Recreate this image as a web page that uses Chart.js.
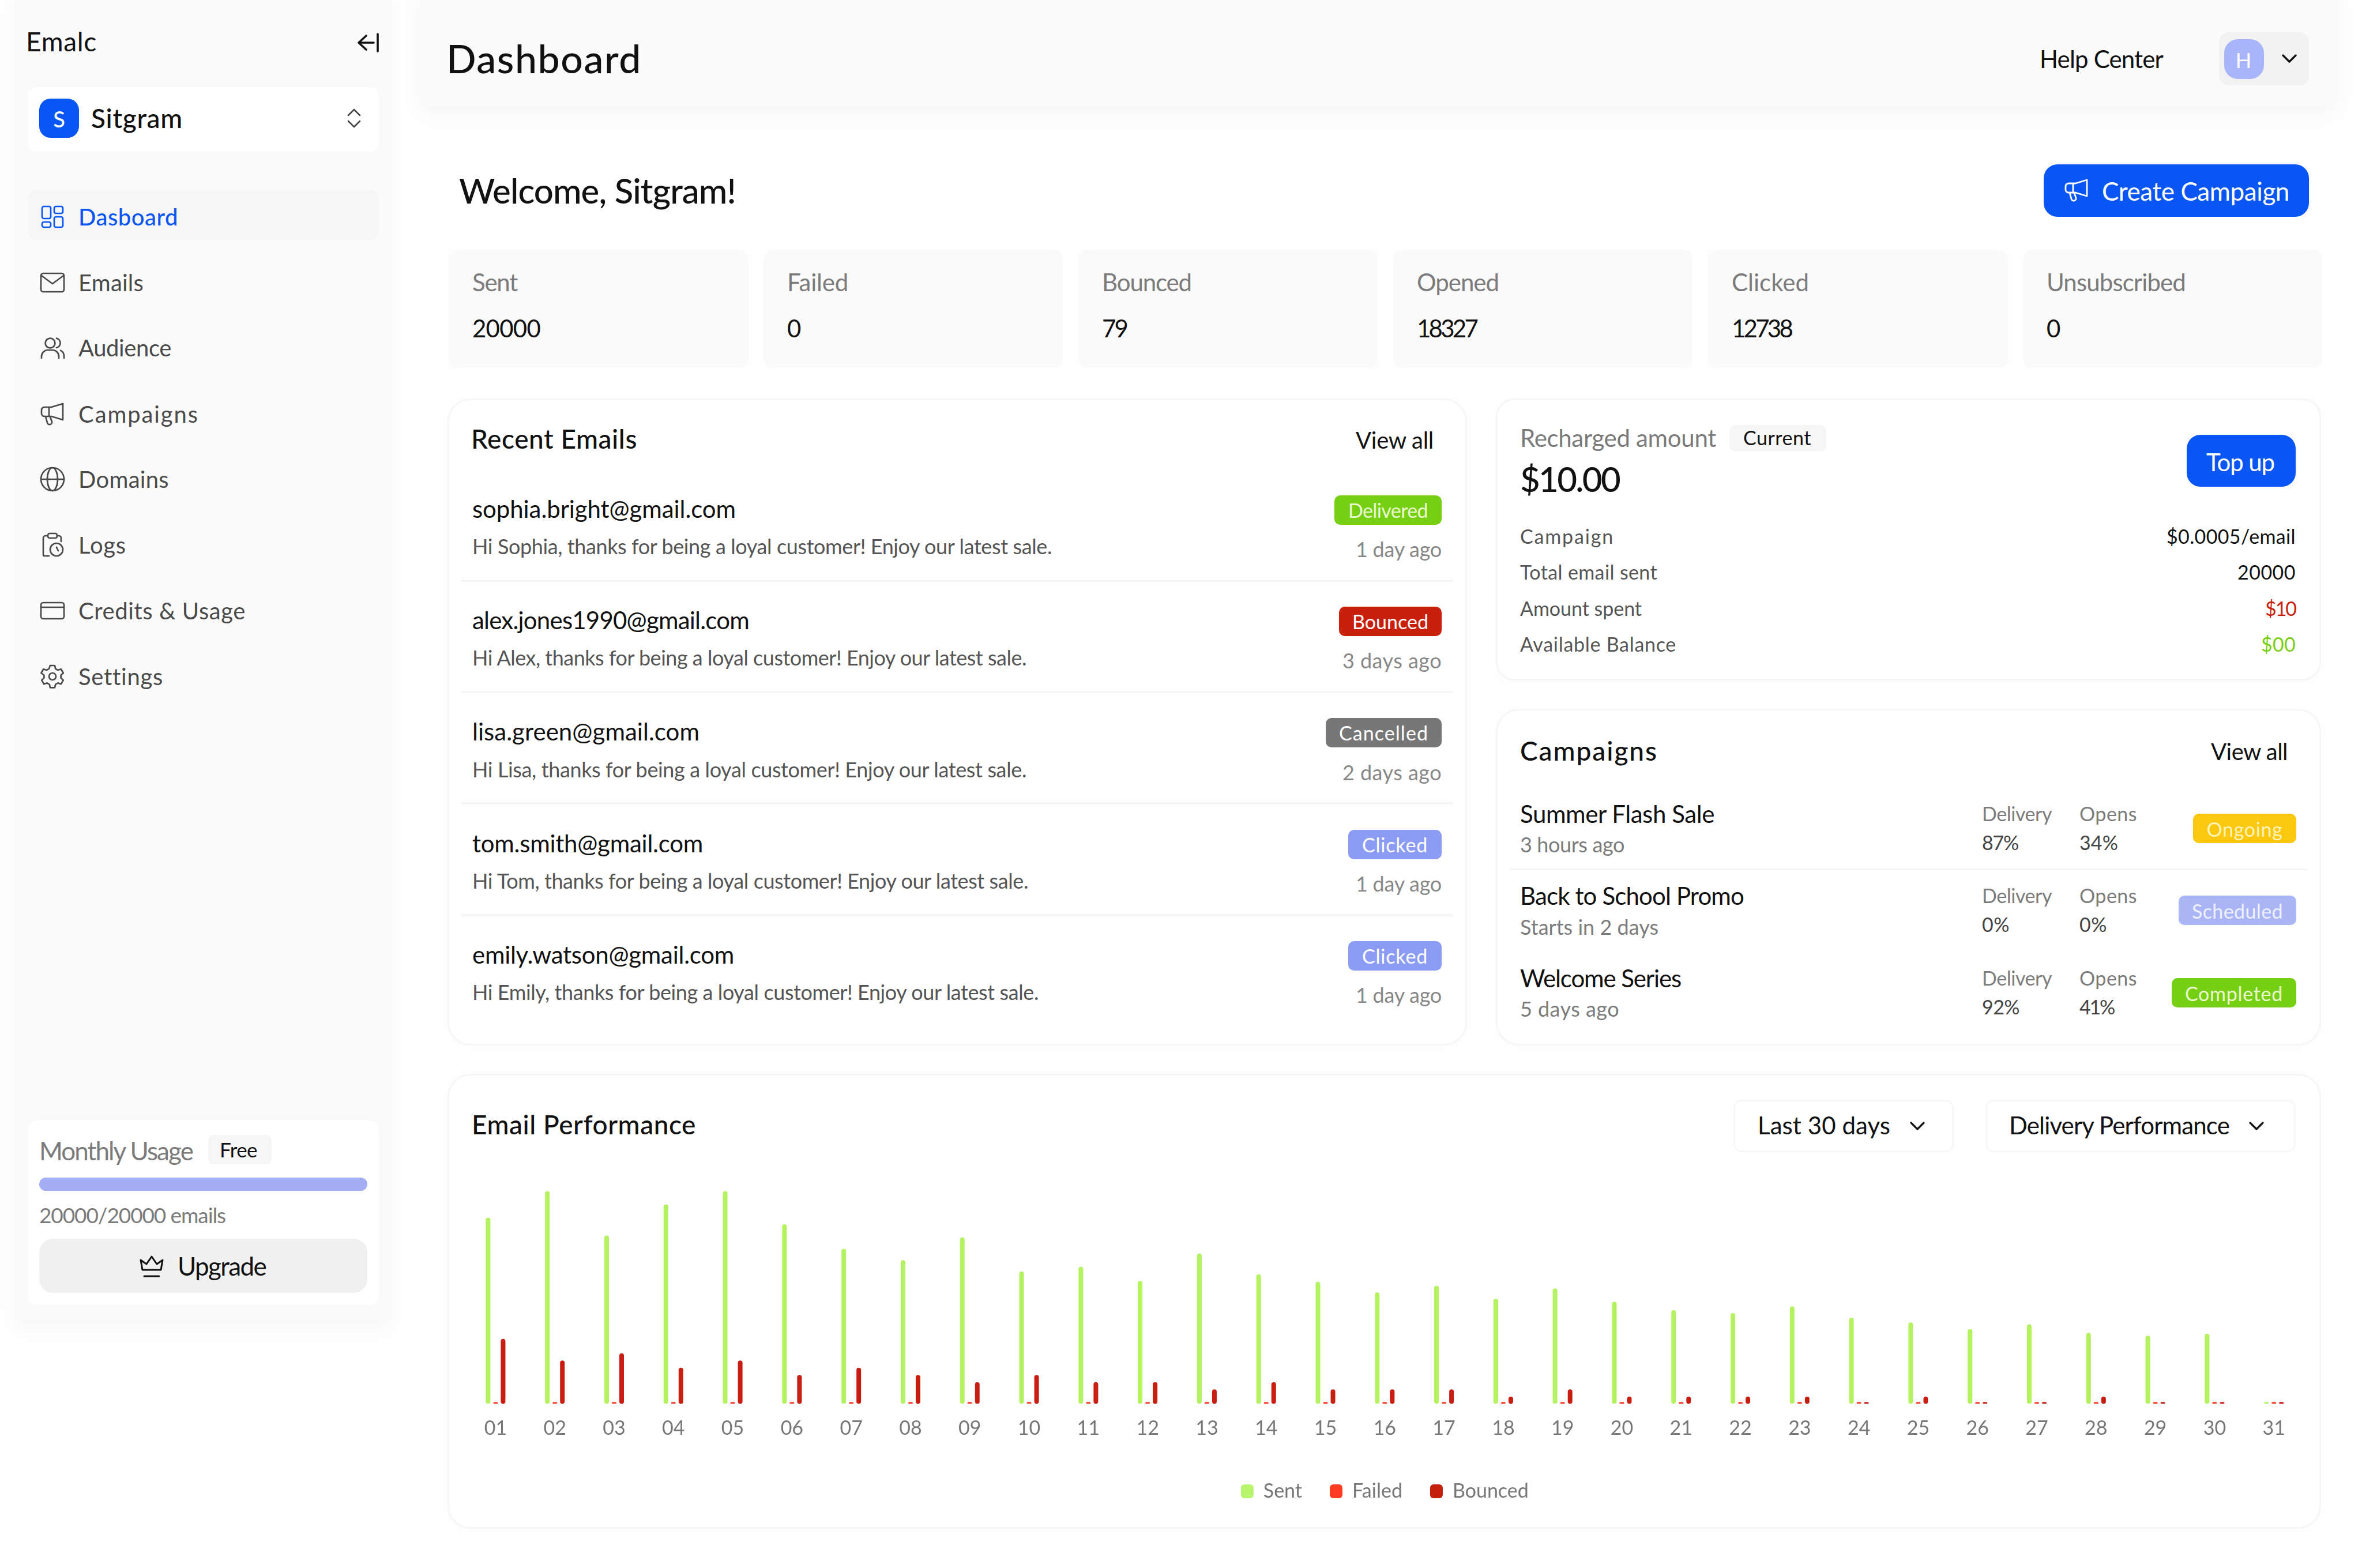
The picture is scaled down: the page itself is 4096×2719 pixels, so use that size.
<!DOCTYPE html>
<html>
<head>
<meta charset="utf-8">
<script src="https://cdn.jsdelivr.net/npm/chart.js@4"></script>
<style>
html,body{margin:0;padding:0;background:#fefefe;width:4096px;height:2719px;overflow:hidden;font-family:Lato,sans-serif}
#root{position:relative;width:4096px;height:2719px;overflow:hidden}
.b{position:absolute;box-sizing:border-box}
.t{position:absolute;white-space:nowrap;line-height:1;transform:translateY(-50%)}
svg{position:absolute;overflow:visible}
canvas{position:absolute}
</style>
</head>
<body>
<div id="root"></div>
<script>
const days = ["01","02","03","04","05","06","07","08","09","10","11","12","13","14","15","16","17","18","19","20","21","22","23","24","25","26","27","28","29","30","31"];
const sentValues = [985,1125,890,1055,1125,950,820,760,880,700,725,650,795,685,645,590,625,555,610,540,495,480,515,455,430,395,420,375,360,370,0];
const failedValues = [0,0,0,0,0,0,0,0,0,0,0,0,0,0,0,0,0,0,0,0,0,0,0,0,0,0,0,0,0,0,0];
const bouncedValues = [9,6,7,5,6,4,5,4,3,4,3,3,2,3,2,2,2,1,2,1,1,1,1,0,1,0,0,1,0,0,0];
const seriesNames = ["Sent","Failed","Bounced"];
const seriesColors = ["#b4f25f","#ff3a24","#c81e12"];
const legendColors = ["#b6f56c","#ff3b22","#c4200c"];
const navLabels = ["Dasboard","Emails","Audience","Campaigns","Domains","Logs","Credits & Usage","Settings"];
const statLabels = ["Sent","Failed","Bounced","Opened","Clicked","Unsubscribed"];
const statValues = ["20000","0","79","18327","12738","0"];
const emailAddresses = ["sophia.bright@gmail.com","alex.jones1990@gmail.com","lisa.green@gmail.com","tom.smith@gmail.com","emily.watson@gmail.com"];
const emailMessages = ["Hi Sophia, thanks for being a loyal customer! Enjoy our latest sale.","Hi Alex, thanks for being a loyal customer! Enjoy our latest sale.","Hi Lisa, thanks for being a loyal customer! Enjoy our latest sale.","Hi Tom, thanks for being a loyal customer! Enjoy our latest sale.","Hi Emily, thanks for being a loyal customer! Enjoy our latest sale."];
const emailStatus = ["Delivered","Bounced","Cancelled","Clicked","Clicked"];
const emailTimes = ["1 day ago","3 days ago","2 days ago","1 day ago","1 day ago"];
const balanceLabels = ["Campaign","Total email sent","Amount spent","Available Balance"];
const balanceValues = ["$0.0005/email","20000","$10","$00"];
const campaignNames = ["Summer Flash Sale","Back to School Promo","Welcome Series"];
const campaignWhen = ["3 hours ago","Starts in 2 days","5 days ago"];
const campaignDelivery = ["87%","0%","92%"];
const campaignOpens = ["34%","0%","41%"];
const campaignStatus = ["Ongoing","Scheduled","Completed"];

const root = document.getElementById('root');
function box(x,y,w,h,bg,r,extra){
  const d=document.createElement('div');d.className='b';
  d.style.cssText+=`left:${x}px;top:${y}px;width:${w}px;height:${h}px;background:${bg};border-radius:${r||0}px;${extra||''}`;
  root.appendChild(d);return d;
}
function T(s,x,yc,size,w,color,weight,align){
  const e=document.createElement('span');e.className='t';e.textContent=s;
  yc-=1;
  e.style.cssText+=`left:${x}px;top:${yc}px;font-size:${size}px;color:${color||'#111'};font-weight:${weight||400};`;
  root.appendChild(e);
  const nat=e.getBoundingClientRect().width;
  let real=nat;
  if(w){e.style.letterSpacing=((w-nat)/s.length)+'px';real=w;}
  if(align==='r')e.style.left=(x-real)+'px';
  if(align==='c')e.style.left=(x-real/2)+'px';
  return e;
}
function icon(x,y,w,h,vb,inner,color,sw){
  const n='http://www.w3.org/2000/svg';
  const s=document.createElementNS(n,'svg');
  s.setAttribute('viewBox',vb);s.setAttribute('width',w);s.setAttribute('height',h);
  s.style.left=x+'px';s.style.top=y+'px';
  s.setAttribute('fill','none');s.setAttribute('stroke',color);s.setAttribute('stroke-width',sw||2);
  s.setAttribute('stroke-linecap','round');s.setAttribute('stroke-linejoin','round');
  s.innerHTML=inner;root.appendChild(s);
}
const BLUE='#0a56f5',GRAY='#7b7b7b',DARK='#4a4a4a',RED='#c9200c',GREEN='#77cf13';
const megaphone='<path d="M21 3v14l-10-3H5a2.500 2.500 0 0 1-2.500-2.500V8.500A2.500 2.500 0 0 1 5 6h6zM9 6v8M6 14l1.500 5.500a2 2 0 0 0 4-1L10 14.500"/>';
const navIcons=[
 '<rect x="3" y="3" width="7.500" height="10.500" rx="1.500"/><rect x="13.500" y="3" width="7.500" height="6" rx="1.500"/><rect x="13.500" y="12" width="7.500" height="9" rx="1.500"/><rect x="3" y="16.500" width="7.500" height="4.500" rx="1.500"/>',
 '<rect x="2" y="4" width="20" height="16" rx="2"/><path d="M2.500 6l9.500 7 9.500-7"/>',
 '<circle cx="10" cy="8" r="4.200"/><path d="M2.500 21v-1.500A5.500 5.500 0 0 1 8 14h4a5.500 5.500 0 0 1 5.500 5.500V21M15.500 3.800a4.200 4.200 0 0 1 0 8.200M19 14.300a5.500 5.500 0 0 1 3 5V21"/>',
 megaphone,
 '<circle cx="12" cy="12" r="10"/><ellipse cx="12" cy="12" rx="4.500" ry="10"/><path d="M2 12h20"/>',
 '<rect x="8" y="2" width="8" height="4" rx="1.500"/><path d="M8 4H6a2 2 0 0 0-2 2v14.500a1 1 0 0 0 1 1h4M16 4h1.500a2 2 0 0 1 2 2v3"/><circle cx="15.500" cy="16" r="5.500"/><path d="M15.500 14l1.500 3"/>',
 '<rect x="2" y="5" width="20" height="14" rx="2"/><path d="M2 9h20"/>',
 '<circle cx="12" cy="12" r="3"/><path d="M10 2.500h4l.6 2.800 2.100 1.200 2.700-.9 2 3.400-2.100 1.900v2.400l2.100 1.900-2 3.400-2.700-.9-2.100 1.200-.6 2.800h-4l-.6-2.800-2.100-1.200-2.700.9-2-3.400 2.100-1.900v-2.400L2.200 9l2-3.400 2.700.9 2.100-1.200z"/>'
];

box(24,-30,655,2318,'#fafafa',28,'box-shadow:0 18px 30px rgba(0,0,0,.03)');
T('Emalc',45,73,46,123,'#111');
icon(618,59,39,30,'0 0 39 30','<path d="M17 3L4 15l13 12M4 15h26M37 0v30"/>','#111',3.6);
box(48,151,609,112,'#fff',16);
box(68,171,69,68,BLUE,20);
T('S',102.5,207,38,0,'#fff',500,'c');
T('Sitgram',158,206,46,159,'#111',500);
icon(602,188,24,34,'0 0 24 34','<path d="M2 12L12 2l10 10M2 22l10 10 10-10"/>','#444',2.6);
box(48,329,609,87,'#f6f6f6',16);
const navY=[376,490,603,718,831,945,1059,1173], navW=[173,113,161,209,157,83,290,146];
navLabels.forEach((s,i)=>{
  const active=i===0;
  T(s,136,navY[i]+1,40,navW[i],active?BLUE:DARK,active?500:400);
  icon(67,navY[i]-24,48,48,'0 0 24 24',navIcons[i],active?BLUE:DARK,1.35);
});
box(48,1943,609,320,'#fff',16);
T('Monthly Usage',68,1996,44,266,GRAY);
box(361,1968,110,51,'#f6f6f6',10);
T('Free',381,1994,35,65,'#111');
box(68,2042,569,23,'#a3aef5',12);
T('20000/20000 emails',68,2107,37,323,GRAY);
box(68,2148,569,94,'#f0f0f0',24);
icon(242,2177,42,38,'0 0 42 38','<path d="M5 25L2 8l10 7 9-13 9 13 10-7-3 17zM8 36h26"/>','#111',3);
T('Upgrade',308,2196,44,153,'#111');

box(728,-30,3323,213,'#fafafa',26,'box-shadow:0 14px 36px rgba(0,0,0,.04)');
T('Dashboard',774,102,68,339,'#111',500);
T('Help Center',3537,103,42,214,'#111');
box(3848,56,156,92,'#f2f2f2',16);
box(3857,68,69,69,'#a9b5fb',24);
T('H',3890.5,105,36,0,'#fff',400,'c');
icon(3957,94,26,16,'0 0 26 16','<path d="M2 2l11 11L24 2"/>','#111',3.4);

T('Welcome, Sitgram!',796,331,60,480,'#111',500);
box(3544,285,460,91,BLUE,24);
icon(3577,306,48,48,'0 0 24 24',megaphone,'#fff',1.4);
T('Create Campaign',3645,332,44,325,'#fff');

const statX=[778,1324,1870,2416,2962,3508];
const statLW=[77,105,154,141,133,240], statVW=[117,16,42,102,102,16];
statLabels.forEach((s,i)=>{
  box(statX[i],433,519,205,'#fafafa',16);
  T(s,statX[i]+41,490,42,statLW[i]+1,GRAY);
  T(statValues[i],statX[i]+41,570,42,statVW[i]+1,'#111');
});

const cardCss='border:3px solid #f6f6f6;box-shadow:0 2px 8px rgba(0,0,0,.012)';
box(776,691,1768,1122,'#fff',40,cardCss);
T('Recent Emails',817,762,46,288,'#111',500);
T('View all',2351,764,40,135,'#111');
const emailY=[883,1076,1269,1463,1656], msgY=[948,1141,1335,1528,1721], timeY=[953,1146,1340,1533,1726];
const emailW=[457,480,394,400,454], msgW=[1005,961,961,964,982], timeW=[149,172,172,149,149];
const badgeLeft=[2314,2322,2299,2338,2338], badgeTW=[138,132,155,114,114];
const badgeColor=[GREEN,RED,'#777777','#8c9cf5','#8c9cf5'];
emailAddresses.forEach((s,i)=>{
  T(s,819,emailY[i],42,emailW[i],'#111');
  T(emailMessages[i],819,msgY[i],36,msgW[i],'#555');
  box(badgeLeft[i],emailY[i]-24,2500-badgeLeft[i],51,badgeColor[i],10);
  T(emailStatus[i],(badgeLeft[i]+2500)/2,emailY[i]+3,34,badgeTW[i],i===0?'#eaf9cf':'#fff',400,'c');
  T(emailTimes[i],2500,timeY[i],36,timeW[i],'#888',400,'r');
  if(i<4)box(799,emailY[i]+122,1722,4,'#f6f6f6',2);
});

box(2594,691,1431,489,'#fff',32,cardCss);
T('Recharged amount',2636,760,42,340,GRAY);
box(2999,737,168,45,'#f6f6f6',10);
T('Current',3023,760,34,118,'#111');
T('$10.00',2636,831,60,172,'#111',500);
box(3792,754,189,90,BLUE,24);
T('Top up',3826,802,42,118,'#fff');
const balY=[931,993,1056,1118], balLW=[163,238,211,271], balVW=[224,101,53,60], balC=['#111','#111',RED,GREEN];
balanceLabels.forEach((s,i)=>{
  T(s,2636,balY[i],34,balLW[i],'#555');
  T(balanceValues[i],3981,balY[i],34,balVW[i],balC[i],400,'r');
});

box(2594,1229,1431,584,'#fff',40,cardCss);
T('Campaigns',2636,1303,46,239,'#111',500);
T('View all',3834,1304,40,133,'#111');
const campY=[1412,1554,1697], subY=[1465,1608,1750], valY=[1462,1604,1747];
const campW=[337,388,279], subW=[181,240,172], delW=[63,48,65], opnW=[67,48,60];
const cbLeft=[3803,3778,3766], cbTW=[132,158,170], cbColor=['#fbc70f','#a9b5f5',GREEN], cbText=['#fff3b8','#eef0ff','#eaf9cf'];
campaignNames.forEach((s,i)=>{
  T(s,2636,campY[i],42,campW[i],'#111');
  T(campaignWhen[i],2636,subY[i],36,subW[i],GRAY);
  T('Delivery',3437,campY[i],34,121,GRAY);
  T('Opens',3606,campY[i],34,100,GRAY);
  T(campaignDelivery[i],3437,valY[i],34,delW[i],'#444');
  T(campaignOpens[i],3606,valY[i],34,opnW[i],'#444');
  box(cbLeft[i],campY[i]-1,3982-cbLeft[i],51,cbColor[i],10);
  T(campaignStatus[i],(cbLeft[i]+3982)/2,campY[i]+27,34,cbTW[i],cbText[i],400,'c');
});
box(2617,1506,1385,3,'#f6f6f6',2);

box(776,1862,3249,789,'#fff',40,cardCss);
T('Email Performance',818,1951,46,389,'#111',500);
box(3006,1907,382,91,'#fff',14,'border:3px solid #f7f7f7');
T('Last 30 days',3048,1952,42,230,'#111');
icon(3312,1945,26,15,'0 0 26 15','<path d="M2 2l11 11L24 2"/>','#111',3.2);
box(3443,1907,538,91,'#fff',14,'border:3px solid #f7f7f7');
T('Delivery Performance',3484,1952,42,382,'#111');
icon(3900,1945,26,15,'0 0 26 15','<path d="M2 2l11 11L24 2"/>','#111',3.2);

const cv=document.createElement('canvas');
cv.width=3249;cv.height=631;
cv.style.cssText='left:776px;top:2020px;width:3249px;height:631px';
root.appendChild(cv);
const common={categoryPercentage:0.38,barPercentage:0.615,borderRadius:4,borderSkipped:false,minBarLength:3};
const chart=new Chart(cv.getContext('2d'),{
  type:'bar',
  data:{labels:days,datasets:[
    {label:seriesNames[0],data:sentValues,backgroundColor:seriesColors[0],yAxisID:'y',...common},
    {label:seriesNames[1],data:failedValues,backgroundColor:seriesColors[1],yAxisID:'y1',...common},
    {label:seriesNames[2],data:bouncedValues,backgroundColor:seriesColors[2],yAxisID:'y1',...common}
  ]},
  options:{
    responsive:false,animation:false,devicePixelRatio:1,
    layout:{padding:{left:32,right:30.4,top:21,bottom:38}},
    plugins:{
      title:{display:false},tooltip:{enabled:false},
      legend:{position:'bottom',align:'center',labels:{
        boxWidth:22,boxHeight:24,useBorderRadius:true,borderRadius:6,padding:48,color:'#777',
        font:{family:'Lato',size:34},
        generateLabels(c){return seriesNames.map((n,i)=>({text:n,fillStyle:legendColors[i],strokeStyle:legendColors[i],lineWidth:0,borderRadius:6,datasetIndex:i,fontColor:'#777'}));}
      }}
    },
    scales:{
      x:{grid:{display:false},border:{display:false},afterFit(s){s.height+=10;},ticks:{color:'#777',font:{family:'Lato',size:34},padding:14,maxRotation:0,autoSkip:false}},
      y:{display:false,min:0,max:1200,grid:{display:false}},
      y1:{display:false,min:0,max:31.5,grid:{display:false}}
    }
  }
});
</script>
</body>
</html>
